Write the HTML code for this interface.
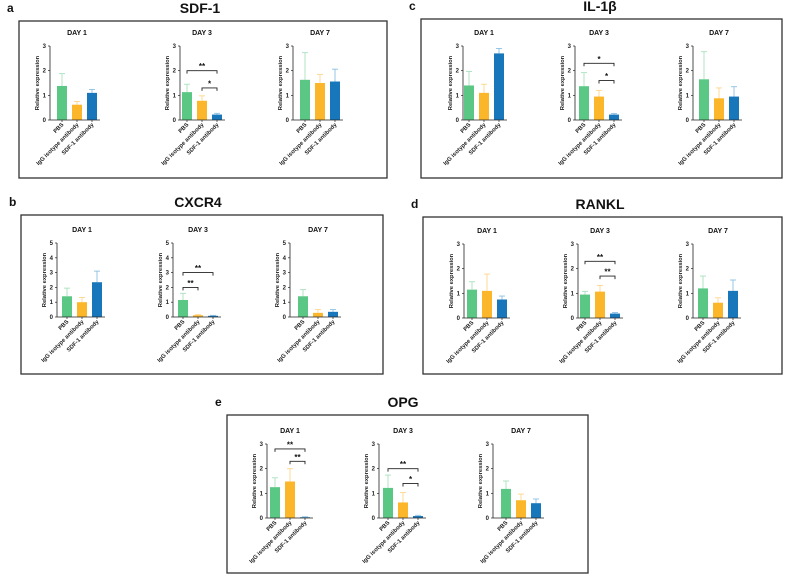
<!DOCTYPE html>
<html><head><meta charset="utf-8"><style>
body{margin:0;background:#fff;}
svg{display:block;font-family:"Liberation Sans",sans-serif;}
</style></head><body>
<svg id="fig" width="787" height="578" viewBox="0 0 787 578"></svg>
<script>
// ---- data ----
const categories=["PBS","IgG isotype antibody","SDF-1 antibody"];
const days=["DAY 1","DAY 3","DAY 7"];
const sdf1Values=[[1.38,0.62,1.1],[1.13,0.78,0.22],[1.63,1.5,1.56]];
const sdf1Errors=[[0.5,0.13,0.14],[0.32,0.2,0.05],[1.1,0.35,0.5]];
const sdf1Sig=[[],[[0,2,2.0,"**"],[1,2,1.3,"*"]],[]];
const cxcr4Values=[[1.4,1.0,2.35],[1.15,0.12,0.08],[1.4,0.28,0.35]];
const cxcr4Errors=[[0.55,0.32,0.75],[0.45,0.04,0.03],[0.45,0.22,0.15]];
const cxcr4Sig=[[],[[0,2,3.0,"**"],[0,1,2.0,"**"]],[]];
const il1bValues=[[1.4,1.1,2.7],[1.37,0.95,0.22],[1.65,0.88,0.95]];
const il1bErrors=[[0.57,0.35,0.2],[0.55,0.25,0.04],[1.12,0.42,0.4]];
const il1bSig=[[],[[0,2,2.3,"*"],[1,2,1.6,"*"]],[]];
const ranklValues=[[1.15,1.1,0.75],[0.95,1.07,0.18],[1.2,0.62,1.1]];
const ranklErrors=[[0.32,0.68,0.14],[0.13,0.25,0.04],[0.5,0.2,0.44]];
const ranklSig=[[],[[0,2,2.3,"**"],[1,2,1.7,"**"]],[]];
const opgValues=[[1.25,1.48,0.03],[1.22,0.63,0.08],[1.18,0.72,0.6]];
const opgErrors=[[0.38,0.52,0.02],[0.52,0.4,0.03],[0.32,0.25,0.17]];
const opgSig=[[[0,2,2.8,"**"],[1,2,2.3,"**"]],[[0,2,2.0,"**"],[1,2,1.4,"*"]],[]];
const ticks3=[0,1,2,3];
const ticks5=[0,1,2,3,4,5];

const colors=["#5bc784","#fbb62a","#1877bb"];
const errColors=["#a8e0bd","#fdd68a","#8cc0e2"];
const NS="http://www.w3.org/2000/svg";
const svg=document.getElementById('fig');
function mk(tag,attrs,parent,text){const e=document.createElementNS(NS,tag);for(const k in attrs)e.setAttribute(k,attrs[k]);if(text!==undefined)e.textContent=text;(parent||svg).appendChild(e);return e;}

function panel(letter,title,box,titleX,subs,vals,errs,sigs,ticks,zeroY){
  const g=mk('g',{});
  
  
  const l=mk('text',{x:box[0]-12,y:box[1]-9,'font-size':12,'font-weight':'bold',fill:'#111'},g,letter);
  
  
  const t=mk('text',{x:titleX,y:box[1]-8,'font-size':14,'font-weight':'bold','text-anchor':'middle',fill:'#111'},g,title);
  
  
  const r=mk('rect',{x:box[0],y:box[1],width:box[2]-box[0],height:box[3]-box[1],fill:'none',stroke:'#333','stroke-width':1.3},g);
  
  
  subs.forEach((s,d)=>chart(g,letter,d,s[0],s[1],zeroY,vals[d],errs[d],sigs[d],ticks));
}
function chart(parent,letter,d,axisX,bar1,zeroY,vals,errs,sigs,ticks){
  const g=mk('g',{},parent);
  
  
  const ymax=ticks[ticks.length-1];
  const H=74;
  const y=v=>zeroY-v/ymax*H;
  const xc=i=>bar1+i*15;
  const dt=mk('text',{x:xc(1),y:zeroY-85,'font-size':7,'font-weight':'bold','text-anchor':'middle',fill:'#111'},g,days[d]);
  
  
  vals.forEach((v,i)=>{
    const e=mk('line',{x1:xc(i),x2:xc(i),y1:y(v),y2:y(v+errs[i]),stroke:errColors[i],'stroke-width':0.9},g);
    
    
    const c=mk('line',{x1:xc(i)-3,x2:xc(i)+3,y1:y(v+errs[i]),y2:y(v+errs[i]),stroke:errColors[i],'stroke-width':0.9},g);
    
    
    const b=mk('rect',{x:xc(i)-5,y:y(v),width:10,height:zeroY-y(v),fill:colors[i]},g);
    
    
  });
  const ya=mk('line',{x1:axisX,x2:axisX,y1:y(ymax),y2:zeroY,stroke:'#222','stroke-width':0.8},g);
  
  
  const xa=mk('line',{x1:axisX,x2:xc(2)+8,y1:zeroY,y2:zeroY,stroke:'#222','stroke-width':0.8},g);
  
  
  ticks.forEach(tv=>{
    mk('line',{x1:axisX-2,x2:axisX,y1:y(tv),y2:y(tv),stroke:'#222','stroke-width':0.7},g);
    const tl=mk('text',{x:axisX-4,y:y(tv)+2,'font-size':6,'font-weight':'bold','text-anchor':'end',fill:'#222'},g,tv);
    
    
  });
  const yt=mk('text',{x:0,y:0,'font-size':5.8,'font-weight':'bold','text-anchor':'middle',fill:'#222',transform:`translate(${axisX-11},${zeroY-H/2}) rotate(-90)`},g,'Relative expression');
  
  
  categories.forEach((c,i)=>{
    mk('line',{x1:xc(i),x2:xc(i),y1:zeroY,y2:zeroY+2,stroke:'#222','stroke-width':0.7},g);
    const cl=mk('text',{x:0,y:0,'font-size':5.8,'font-weight':'bold','text-anchor':'end',fill:'#222',transform:`translate(${xc(i)+2},${zeroY+5}) rotate(-45)`},g,c);
    
    
  });
  sigs.forEach(s=>{
    const yy=y(s[2]);
    const p=mk('path',{d:`M${xc(s[0])},${yy+3}V${yy}H${xc(s[1])}V${yy+3}`,fill:'none',stroke:'#222','stroke-width':0.9},g);
    
    
    const st=mk('text',{x:(xc(s[0])+xc(s[1]))/2,y:yy-1.5,'font-size':8,'font-weight':'bold','text-anchor':'middle',fill:'#111'},g,s[3]);
    
    
  });
}
panel('a','SDF-1',[19,21,387,178],200,[[50,62],[180,187],[293,305]],sdf1Values,sdf1Errors,sdf1Sig,ticks3,120);
panel('b','CXCR4',[21,215,383,374],198,[[57,67],[173,183],[290,303]],cxcr4Values,cxcr4Errors,cxcr4Sig,ticks5,317);
panel('c','IL-1β',[421,19,782,178],600,[[463,469],[575,584],[693,704]],il1bValues,il1bErrors,il1bSig,ticks3,120);
panel('d','RANKL',[423,217,782,374],600,[[464,472],[578,585],[693,703]],ranklValues,ranklErrors,ranklSig,ticks3,318);
panel('e','OPG',[227,415,588,573],403,[[267,275],[379,388],[493,506]],opgValues,opgErrors,opgSig,ticks3,518);
</script>
</body></html>
